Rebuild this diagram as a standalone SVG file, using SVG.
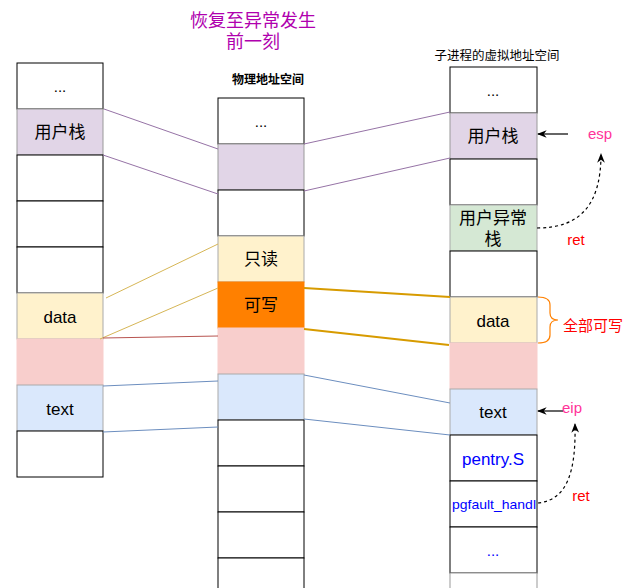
<svg xmlns="http://www.w3.org/2000/svg" width="640" height="588" viewBox="0 0 640 588">
<style>
text{font-family:"Liberation Sans","Noto Sans CJK SC",sans-serif;text-anchor:middle;fill:#000}
.w{fill:#fff;stroke:#000;stroke-width:1}
.g{fill:#fff;stroke:#999;stroke-width:1}
.pu{fill:#e1d5e7;stroke:#999}
.ye{fill:#fff2cc;stroke:#aaa}
.pk{fill:#f8cecc;stroke:#f8cecc}
.bl{fill:#dae8fc;stroke:#aaa}
.gr{fill:#d5e8d4;stroke:#aaa}
.or{fill:#ff8000;stroke:#ff8000}
.t{font-size:17px}
.s{font-size:15px}
.lp{stroke:#9673a6;fill:none}
.ly{stroke:#d6b656;fill:none}
.lr{stroke:#b85450;fill:none}
.lb{stroke:#6c8ebf;fill:none}
.lo{stroke:#d79b00;stroke-width:2;fill:none}
</style>
<defs>
<marker id="ah" viewBox="0 0 10 10" refX="9" refY="5" markerWidth="8" markerHeight="8" orient="auto">
<path d="M0,1 L10,5 L0,9 L3,5 Z" fill="#000"/>
</marker>
</defs>
<g id="titles">
<text x="253" y="27" style="font-size:18px;fill:#b000ae">恢复至异常发生</text>
<text x="253" y="48" style="font-size:18px;fill:#b000ae">前一刻</text>
<text x="268" y="84" style="font-size:12px;font-weight:bold">物理地址空间</text>
<text x="497" y="60" style="font-size:12.5px">子进程的虚拟地址空间</text>
</g>
<g id="left-column">
<rect class="w" x="17" y="63" width="86" height="46"/><text class="s" x="60" y="92">...</text>
<rect class="pu" x="17" y="109" width="86" height="46"/><text class="t" x="60" y="138">用户栈</text>
<rect class="w" x="17" y="155" width="86" height="46"/>
<rect class="w" x="17" y="201" width="86" height="46"/>
<rect class="w" x="17" y="247" width="86" height="46"/>
<rect class="ye" x="17" y="293" width="86" height="46"/><text class="t" x="60" y="323">data</text>
<rect class="pk" x="17" y="339" width="86" height="46"/>
<rect class="bl" x="17" y="385" width="86" height="46"/><text class="t" x="60" y="415">text</text>
<rect class="w" x="17" y="431" width="86" height="46"/>
</g>
<g id="middle-column">
<rect class="w" x="218" y="98" width="86" height="46"/><text class="s" x="261" y="127">...</text>
<rect class="pu" x="218" y="144" width="86" height="46"/>
<rect class="w" x="218" y="190" width="86" height="46"/>
<rect class="ye" x="218" y="236" width="86" height="46"/><text class="t" x="261" y="265">只读</text>
<rect class="or" x="218" y="282" width="86" height="46"/><text class="t" x="261" y="311">可写</text>
<rect class="pk" x="218" y="328" width="86" height="46"/>
<rect class="bl" x="218" y="374" width="86" height="46"/>
<rect class="w" x="218" y="420" width="86" height="46"/>
<rect class="w" x="218" y="466" width="86" height="46"/>
<rect class="w" x="218" y="512" width="86" height="46"/>
<rect class="w" x="218" y="558" width="86" height="46"/>
</g>
<g id="right-column">
<rect class="w" x="450" y="67" width="87" height="46"/><text class="s" x="493" y="96">...</text>
<rect class="pu" x="450" y="113" width="87" height="46"/><text class="t" x="493" y="142">用户栈</text>
<rect class="w" x="450" y="159" width="87" height="46"/>
<rect class="gr" x="450" y="205" width="87" height="46"/><text class="t" x="493" y="224">用户异常</text><text class="t" x="493" y="245">栈</text>
<rect class="w" x="450" y="251" width="87" height="46"/>
<rect class="ye" x="450" y="297" width="87" height="46"/><text class="t" x="493" y="327">data</text>
<rect class="pk" x="450" y="343" width="87" height="46"/>
<rect class="bl" x="450" y="389" width="87" height="46"/><text class="t" x="493" y="418">text</text>
<rect class="w" x="450" y="435" width="87" height="46"/><text class="t" x="493" y="465" style="fill:#0000ff">pentry.S</text>
<rect class="w" x="450" y="481" width="87" height="46"/><text x="494" y="509" style="font-size:13.5px;fill:#0000ff" textLength="84" lengthAdjust="spacingAndGlyphs">pgfault_handl</text>
<rect class="w" x="450" y="527" width="87" height="46"/><text class="s" x="493" y="556" style="fill:#0000ff">...</text>
<rect class="g" x="450" y="573" width="87" height="46"/>
</g>
<g id="connectors">
<path class="lp" d="M104,109 L218,149"/>
<path class="lp" d="M103,155 L218,194"/>
<path class="lp" d="M304,144 L450,112"/>
<path class="lp" d="M304,191 L450,158"/>
<path class="ly" d="M106,298 L218,244"/>
<path class="ly" d="M100,339 L218,288"/>
<path class="lr" d="M103,338 L218,336"/>
<path class="lb" d="M103,386 L218,381"/>
<path class="lb" d="M103,432 L218,427"/>
<path class="lo" d="M304,288 L450,297"/>
<path class="lo" d="M304,329 L449,345"/>
<path class="lb" d="M304,375 L450,403"/>
<path class="lb" d="M304,419 L450,435"/>
<path d="M568,134 L538,134" stroke="#000" stroke-width="1.2" fill="none" marker-end="url(#ah)"/>
<path d="M563,411 L538,411" stroke="#000" stroke-width="1.2" fill="none" marker-end="url(#ah)"/>
<path d="M537,228 C580,228 601,205 601,154" stroke="#000" stroke-width="1.2" stroke-dasharray="3,3" fill="none" marker-end="url(#ah)"/>
<path d="M538,503 C568,500 576,470 575,424" stroke="#000" stroke-width="1.2" stroke-dasharray="3,3" fill="none" marker-end="url(#ah)"/>
<path d="M538,297 Q550,297 550,305 L550,313 Q550,320 558,320 Q550,320 550,327 L550,335 Q550,343 538,343" stroke="#ff8000" stroke-width="1.2" fill="none"/>
</g>
<g id="labels">
<text x="600" y="139" style="font-size:15px;fill:#ff3399">esp</text>
<text x="576" y="245" style="font-size:15px;fill:#ff0000">ret</text>
<text x="572" y="413" style="font-size:15px;fill:#ff3399">eip</text>
<text x="581" y="501" style="font-size:15px;fill:#ff0000">ret</text>
<text x="593" y="331" style="font-size:15px;fill:#ff0000">全部可写</text>
</g>
</svg>
